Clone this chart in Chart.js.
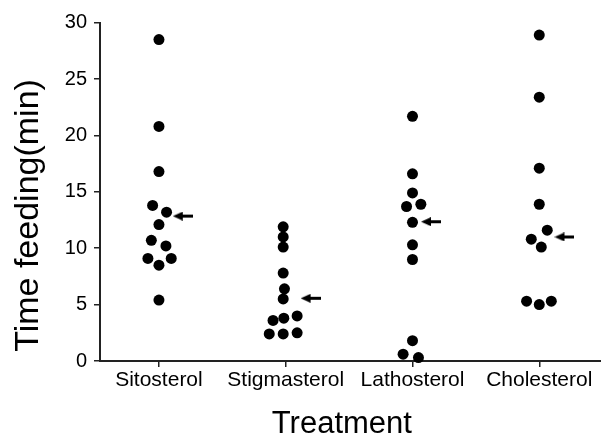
<!DOCTYPE html>
<html>
<head>
<meta charset="utf-8">
<script src="https://cdn.jsdelivr.net/npm/chart.js@4/dist/chart.umd.min.js"></script>
<style>
  body { margin: 0; background: #fff; }
  #wrap { width: 601px; height: 436px; }
</style>
</head>
<body>
<div id="wrap"><canvas id="chart"></canvas></div>
<script>
// categories along the x axis
const categories = ['Sitosterol', 'Stigmasterol', 'Lathosterol', 'Cholesterol'];

// time feeding (min) for each animal, with the small sideways jitter seen in the plot
const sitosterol = [28.5, 20.8, 16.8, 13.8, 13.2, 12.1, 10.7, 10.2, 9.1, 9.1, 8.5, 5.4];
const sitosterolJitter = [0, 0, 0, -0.05, 0.06, 0, -0.06, 0.055, -0.087, 0.097, 0, 0];

const stigmasterol = [11.9, 11.0, 10.1, 7.8, 6.4, 5.5, 3.6, 3.8, 4.0, 2.4, 2.4, 2.5];
const stigmasterolJitter = [-0.02, -0.02, -0.02, -0.02, -0.01, -0.02, -0.1, -0.015, 0.09, -0.13, -0.02, 0.09];

const lathosterol = [21.7, 16.6, 14.9, 13.7, 13.9, 12.3, 10.3, 9.0, 1.8, 0.6, 0.3];
const lathosterolJitter = [0, 0, 0, -0.047, 0.066, 0, 0, 0, 0, -0.074, 0.047];

const cholesterol = [28.9, 23.4, 17.1, 13.9, 11.6, 10.8, 10.1, 5.3, 5.0, 5.3];
const cholesterolJitter = [0, 0, 0, 0, 0.063, -0.063, 0.016, -0.1, 0, 0.095];

// arrows mark the median of each group
const medians = [12.85, 5.56, 12.35, 11.0];
const arrowShift = [0.188, 0.196, 0.146, 0.199];

const yTicks = [0, 5, 10, 15, 20, 25, 30];

function toPoints(values, jitter, cat) {
  return values.map((v, i) => ({ x: cat + jitter[i], y: v }));
}

const dots = []
  .concat(toPoints(sitosterol, sitosterolJitter, 1))
  .concat(toPoints(stigmasterol, stigmasterolJitter, 2))
  .concat(toPoints(lathosterol, lathosterolJitter, 3))
  .concat(toPoints(cholesterol, cholesterolJitter, 4));

const arrows = medians.map((m, i) => ({ x: i + 1 + arrowShift[i], y: m }));

// little left-pointing arrow used as point style
const arrowImg = document.createElement('canvas');
arrowImg.width = 20;
arrowImg.height = 9;
const a = arrowImg.getContext('2d');
a.fillStyle = '#000';
a.beginPath();
a.moveTo(0, 4.5);
a.lineTo(10, 0);
a.lineTo(10, 9);
a.closePath();
a.fill();
a.fillRect(9, 3, 11, 3);

const ctx = document.getElementById('chart').getContext('2d');
new Chart(ctx, {
  type: 'scatter',
  data: {
    datasets: [
      {
        data: dots,
        pointRadius: 5.5,
        pointHoverRadius: 5.5,
        backgroundColor: '#000',
        borderWidth: 0,
        clip: false
      },
      {
        data: arrows,
        pointStyle: arrowImg,
        pointRadius: 10,
        clip: false
      }
    ]
  },
  options: {
    responsive: true,
    maintainAspectRatio: false,
    animation: false,
    layout: { autoPadding: false, padding: { left: 8, top: 22.7, right: 0, bottom: 0 } },
    plugins: {
      legend: { display: false },
      tooltip: { enabled: false }
    },
    scales: {
      x: {
        type: 'linear',
        min: 0.535,
        max: 4.487,
        afterBuildTicks: (scale) => {
          scale.ticks = categories.map((c, i) => ({ value: i + 1 }));
        },
        afterFit: (scale) => {
          scale.paddingLeft = 0;
          scale.paddingRight = 0;
          scale.height = 75;
        },
        ticks: {
          color: '#000',
          padding: 1,
          maxRotation: 0,
          font: { family: 'Liberation Sans', size: 21 },
          callback: (v) => categories[v - 1]
        },
        grid: { drawOnChartArea: false, tickLength: 6, color: '#222', lineWidth: 1.5 },
        border: { color: '#222', width: 2 },
        title: {
          display: true,
          text: 'Treatment  ',
          color: '#000',
          font: { family: 'Liberation Sans', size: 31, lineHeight: 0.75 },
          padding: { top: 0, bottom: 0 }
        }
      },
      y: {
        min: 0,
        max: 30,
        afterBuildTicks: (scale) => {
          scale.ticks = yTicks.map((v) => ({ value: v }));
        },
        afterFit: (scale) => { scale.width = 92; },
        ticks: {
          color: '#000',
          padding: 7,
          font: { family: 'Liberation Sans', size: 20 }
        },
        grid: { drawOnChartArea: false, tickLength: 6, color: '#222', lineWidth: 1.5 },
        border: { color: '#222', width: 2 },
        title: {
          display: true,
          text: 'Time feeding(min)     ',
          color: '#000',
          font: { family: 'Liberation Sans', size: 34 },
          padding: { top: 0, bottom: 4 }
        }
      }
    }
  }
});
</script>
</body>
</html>
